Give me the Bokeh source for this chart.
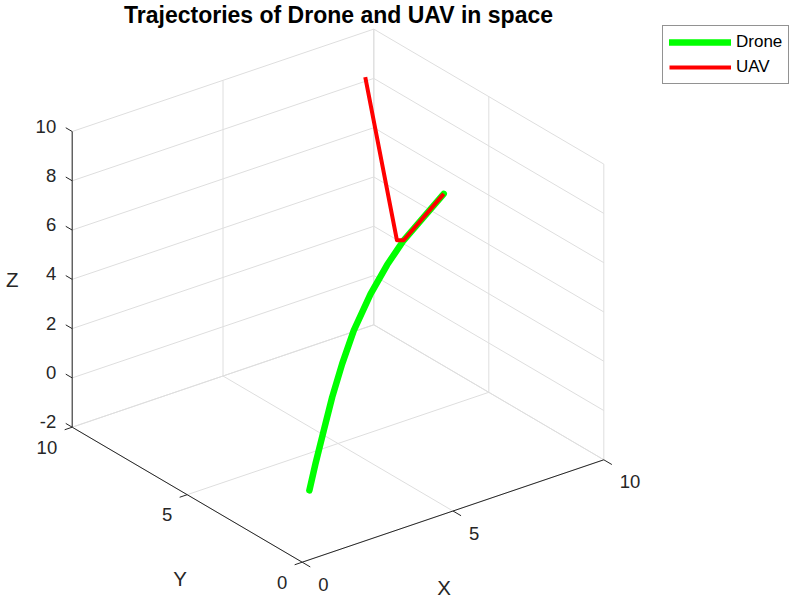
import numpy as np
from bokeh.plotting import figure
from bokeh.models import Range1d, Legend, LegendItem
from bokeh.core.properties import value
from bokeh.embed import file_html
from bokeh.resources import INLINE

# ---------------- data ----------------
TITLE = "Trajectories of Drone and UAV in space"
X_LABEL, Y_LABEL, Z_LABEL = "X", "Y", "Z"
X_TICKS = [0, 5, 10]
Y_TICKS = [0, 5, 10]
Z_TICKS = [-2, 0, 2, 4, 6, 8, 10]
X_LIM = (0, 10)
Y_LIM = (0, 10)
Z_LIM = (-2, 10)

drone_x = [1.00, 1.325, 1.773, 2.227, 2.762, 3.383, 4.285, 5.180, 6.068, 8.22]
drone_y = [1.00, 1.163, 1.388, 1.616, 1.885, 2.196, 2.649, 3.099, 3.545, 4.625]
drone_z = [-0.05, 0.80, 1.85, 2.89, 3.87, 4.79, 5.65, 6.22, 6.60, 7.00]

uav_x = [8.10, 5.71, 6.068, 8.22]
uav_y = [7.88, 3.37, 3.545, 4.625]
uav_z = [10.0, 6.85, 6.60, 7.00]

# ---------------- projection (layout of the 3-D box on the page) ----------------
ORIGIN = (301.7, 561.7)      # screen position of (xmin, ymin, zmin)
EX = (30.16, -10.24)         # screen step per unit x
EY = (-23.0, -13.5)          # screen step per unit y
EZ = (0.0, -24.64)           # screen step per unit z


def proj(x, y, z):
    x = np.asarray(x, float) - X_LIM[0]
    y = np.asarray(y, float) - Y_LIM[0]
    z = np.asarray(z, float) - Z_LIM[0]
    sx = ORIGIN[0] + EX[0] * x + EY[0] * y + EZ[0] * z
    sy = ORIGIN[1] + EX[1] * x + EY[1] * y + EZ[1] * z
    return sx, sy


W, H = 795, 597
p = figure(width=W, height=H, x_range=Range1d(0, W), y_range=Range1d(H, 0),
           output_backend="svg", toolbar_location=None, min_border=0,
           x_axis_type=None, y_axis_type=None, outline_line_color=None,
           background_fill_color="white", border_fill_color="white")

FONT = value("Liberation Sans")
GRID = "#dedede"
AX = "#262626"

# ---------------- grid on back walls and floor ----------------
gx0, gy0, gx1, gy1 = [], [], [], []


def seg(a, b, xs0, ys0, xs1, ys1):
    s0 = proj(*a)
    s1 = proj(*b)
    xs0.append(float(s0[0])); ys0.append(float(s0[1]))
    xs1.append(float(s1[0])); ys1.append(float(s1[1]))


xmin, xmax = X_LIM
ymin, ymax = Y_LIM
zmin, zmax = Z_LIM
for z in Z_TICKS:
    seg((xmin, ymax, z), (xmax, ymax, z), gx0, gy0, gx1, gy1)   # wall y = ymax
    seg((xmax, ymin, z), (xmax, ymax, z), gx0, gy0, gx1, gy1)   # wall x = xmax
for x in X_TICKS:
    seg((x, ymax, zmin), (x, ymax, zmax), gx0, gy0, gx1, gy1)
    seg((x, ymin, zmin), (x, ymax, zmin), gx0, gy0, gx1, gy1)
for y in Y_TICKS:
    seg((xmax, y, zmin), (xmax, y, zmax), gx0, gy0, gx1, gy1)
    seg((xmin, y, zmin), (xmax, y, zmin), gx0, gy0, gx1, gy1)
p.segment(x0=gx0, y0=gy0, x1=gx1, y1=gy1, line_color=GRID, line_width=1)

# ---------------- axes lines & ticks ----------------
ax0, ay0, ax1, ay1 = [], [], [], []
seg((xmin, ymin, zmin), (xmax, ymin, zmin), ax0, ay0, ax1, ay1)
seg((xmin, ymin, zmin), (xmin, ymax, zmin), ax0, ay0, ax1, ay1)
seg((xmin, ymax, zmin), (xmin, ymax, zmax), ax0, ay0, ax1, ay1)
for x in X_TICKS:
    seg((x, ymin, zmin), (x, ymin - 0.35, zmin), ax0, ay0, ax1, ay1)
for y in Y_TICKS:
    seg((xmin, y, zmin), (xmin - 0.25, y, zmin), ax0, ay0, ax1, ay1)
for z in Z_TICKS:
    seg((xmin, ymax, z), (xmin, ymax + 0.28, z), ax0, ay0, ax1, ay1)
p.segment(x0=ax0, y0=ay0, x1=ax1, y1=ay1, line_color=AX, line_width=1)

# ---------------- tick labels ----------------
TICK_FS = value("18.5px")
sx, sy = proj(X_TICKS, [ymin] * len(X_TICKS), [zmin] * len(X_TICKS))
p.text(x=sx + 16, y=sy + 22, text=[str(v) for v in X_TICKS], text_font=FONT,
       text_font_size=TICK_FS, text_color=AX, text_align="left", text_baseline="middle")
sx, sy = proj([xmin] * len(Y_TICKS), Y_TICKS, [zmin] * len(Y_TICKS))
p.text(x=sx - 15, y=sy + 20, text=[str(v) for v in Y_TICKS], text_font=FONT,
       text_font_size=TICK_FS, text_color=AX, text_align="right", text_baseline="middle")
sx, sy = proj([xmin] * len(Z_TICKS), [ymax] * len(Z_TICKS), Z_TICKS)
p.text(x=sx - 16, y=sy - 5.5, text=[str(v) for v in Z_TICKS], text_font=FONT,
       text_font_size=TICK_FS, text_color=AX, text_align="right", text_baseline="middle")

# ---------------- axis labels ----------------
LAB_FS = value("20.5px")
lx, ly = proj(0.5 * (xmin + xmax), ymin, zmin)
p.text(x=[float(lx) - 9], y=[float(ly) + 76], text=[X_LABEL], text_font=FONT,
       text_font_size=LAB_FS, text_color=AX, text_align="center", text_baseline="middle")
lx, ly = proj(xmin, 0.5 * (ymin + ymax), zmin)
p.text(x=[float(lx) - 7], y=[float(ly) + 84], text=[Y_LABEL], text_font=FONT,
       text_font_size=LAB_FS, text_color=AX, text_align="center", text_baseline="middle")
lx, ly = proj(xmin, ymax, 0.5 * (zmin + zmax))
p.text(x=[float(lx) - 60], y=[float(ly)], text=[Z_LABEL], text_font=FONT,
       text_font_size=LAB_FS, text_color=AX, text_align="center", text_baseline="middle")

# ---------------- title ----------------
p.text(x=[338], y=[14], text=[TITLE], text_font=FONT, text_font_size=value("23px"),
       text_font_style="bold", text_color="black", text_align="center", text_baseline="middle")

# ---------------- trajectories ----------------
dx, dy = proj(drone_x, drone_y, drone_z)
ux, uy = proj(uav_x, uav_y, uav_z)
g = p.line(x=dx, y=dy, line_color="#00ff00", line_width=6.5, line_cap="round", line_join="round")
r = p.line(x=ux, y=uy, line_color="#ff0000", line_width=4, line_join="round")

legend = Legend(items=[LegendItem(label="Drone", renderers=[g]),
                       LegendItem(label="UAV", renderers=[r])],
                location=(662, H - 84), padding=6, spacing=5, margin=0,
                glyph_width=62, glyph_height=20, label_height=20, label_standoff=5,
                label_text_font="Liberation Sans", label_text_font_size="17px",
                label_text_color="black", border_line_color=AX, border_line_width=1,
                background_fill_color="white", background_fill_alpha=1.0)
p.add_layout(legend)

open("out.html", "w").write(file_html(p, INLINE))
